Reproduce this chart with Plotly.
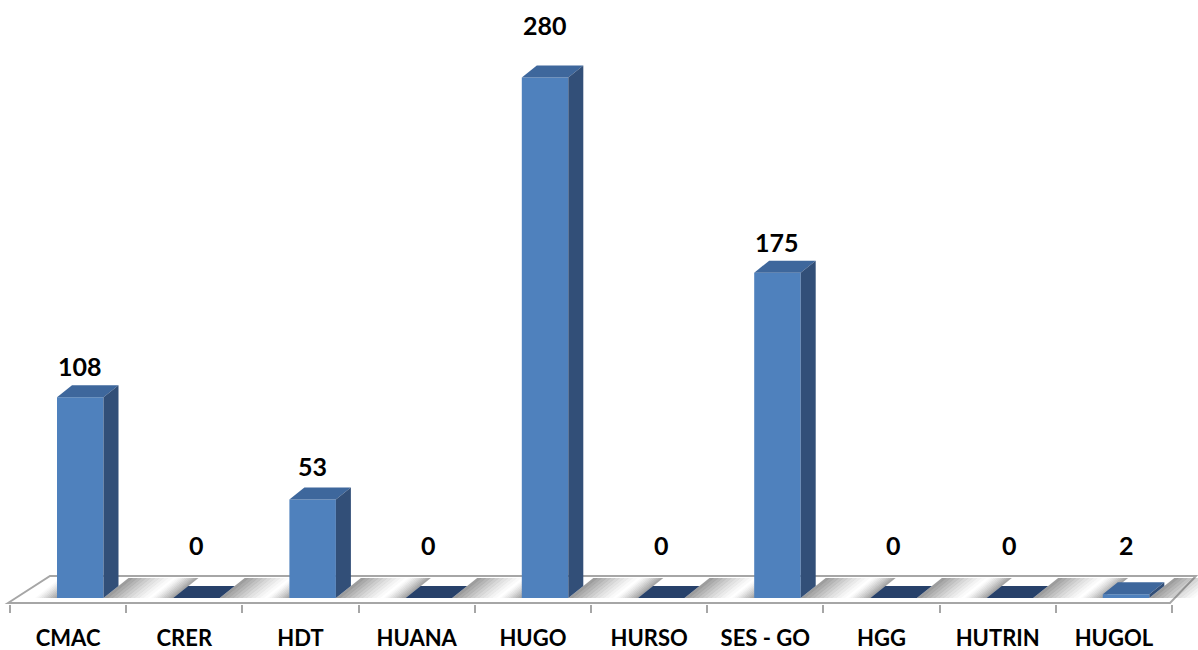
import plotly.graph_objects as go

# ---- data -------------------------------------------------------------
categories = ["CMAC", "CRER", "HDT", "HUANA", "HUGO", "HURSO",
              "SES - GO", "HGG", "HUTRIN", "HUGOL"]
values = [108, 0, 53, 0, 280, 0, 175, 0, 0, 2]

# extra lift (px) of each value label above the back edge of its bar top
label_gap_px = [7, 29, 9, 29, 28, 29, 7, 29, 29, 25]

# ---- geometry (pixels of the 1198x650 page) ---------------------------
W, H = 1198, 650
SLOT_PX = 116.2          # width of one category slot
X0_PX = 10               # left boundary of the first slot
Y0_PX = 598              # pixel row of value 0 (bar front bottom)
PX_PER_UNIT = 1.859      # vertical pixels per unit of value
PLOT_BOTTOM_PX = 604

BAR_LEFT_PX = 47         # bar front-left edge, from slot's left boundary
BAR_W_PX = 46.5
DEPTH_X_PX = 15          # 3-D depth shift of bar tops/sides
DEPTH_Y_PX = 12


def ux(px):
    return (px - X0_PX) / SLOT_PX - 0.5


def uy(py):
    return (Y0_PX - py) / PX_PER_UNIT


bar_offset = BAR_LEFT_PX / SLOT_PX - 0.5
bar_w = BAR_W_PX / SLOT_PX
ddx = DEPTH_X_PX / SLOT_PX
ddy = DEPTH_Y_PX / PX_PER_UNIT

positions = list(range(len(categories)))

FRONT = "#4F81BD"
TOP = "#3E679C"
SIDE = "#324F78"
FLAT = "#27416A"
FLOOR_LINE = "#A6A6A6"

fig = go.Figure()

# ---- floor -------------------------------------------------------------
floor_pts = [(ux(8), uy(603)), (ux(50), uy(576)),
             (ux(1196), uy(576)), (ux(1170), uy(603))]
path = "M " + " L ".join(f"{x},{y}" for x, y in floor_pts) + " Z"
shapes = [dict(type="path", path=path, xref="x", yref="y", layer="below",
               fillcolor="white", line=dict(color=FLOOR_LINE, width=2))]

# soft shadows cast on the floor beside each bar
BAND_FRONT, BAND_BACK = 598, 578
SHEAR = 1.25 * (BAND_FRONT - BAND_BACK)


def band(px_a, px_b, alpha):
    pts = [(ux(px_a), uy(BAND_FRONT)), (ux(px_b), uy(BAND_FRONT)),
           (ux(px_b + SHEAR), uy(BAND_BACK)), (ux(px_a + SHEAR), uy(BAND_BACK))]
    p = "M " + " L ".join(f"{x},{y}" for x, y in pts) + " Z"
    return dict(type="path", path=p, xref="x", yref="y", layer="below",
                fillcolor=f"rgba(105,105,105,{alpha:.3f})", line=dict(width=0))


STEPS = 10
for i in positions:
    left = X0_PX + SLOT_PX * i + BAR_LEFT_PX
    right = left + BAR_W_PX
    # left side: darkens toward the bar
    lw = 22
    for s in range(STEPS):
        a = left - lw + lw * s / STEPS
        b = left - lw + lw * (s + 1) / STEPS
        shapes.append(band(a, b + 0.3, 0.6 * ((s + 1) / STEPS) ** 1.3))
    # right side: fades away from the bar
    rw = 44
    for s in range(STEPS):
        a = right + rw * s / STEPS
        b = right + rw * (s + 1) / STEPS
        shapes.append(band(a, b + 0.3, 0.65 * (1 - s / STEPS) ** 1.3))

# ---- bars: front faces ------------------------------------------------------
fig.add_trace(go.Bar(
    x=positions, y=values, width=bar_w, offset=bar_offset,
    marker=dict(color=FRONT, line=dict(width=0)),
    hoverinfo="x+y", showlegend=False,
))

# ---- bars: top and side faces ---------------------------------------------
for i, v in zip(positions, values):
    x0 = i + bar_offset
    x1 = x0 + bar_w
    top_x = [x0, x1, x1 + ddx, x0 + ddx, x0]
    top_y = [v, v, v + ddy, v + ddy, v]
    fig.add_trace(go.Scatter(
        x=top_x, y=top_y, mode="lines", fill="toself",
        fillcolor=FLAT if v == 0 else TOP, line=dict(width=0),
        hoverinfo="skip", showlegend=False,
    ))
    if v > 0:
        side_x = [x1, x1 + ddx, x1 + ddx, x1, x1]
        side_y = [0, ddy, v + ddy, v, 0]
        fig.add_trace(go.Scatter(
            x=side_x, y=side_y, mode="lines", fill="toself",
            fillcolor=SIDE, line=dict(width=0),
            hoverinfo="skip", showlegend=False,
        ))

# ---- value labels -------------------------------------------------------------
annotations = []
for i, v, gap in zip(positions, values, label_gap_px):
    annotations.append(dict(
        x=i + bar_offset + bar_w / 2, y=v + ddy, xref="x", yref="y",
        text=str(v), showarrow=False, yanchor="bottom", xanchor="center",
        yshift=gap - 5,
        font=dict(family="Lato", size=25, color="black", weight="bold"),
    ))

fig.update_layout(
    width=W, height=H,
    margin=dict(l=0, r=0, t=0, b=H - PLOT_BOTTOM_PX, autoexpand=False),
    paper_bgcolor="white", plot_bgcolor="white",
    shapes=shapes, annotations=annotations,
    showlegend=False,
    xaxis=dict(
        range=[ux(0), ux(W)], automargin=False,
        tickmode="array", tickvals=positions, ticktext=categories,
        ticks="", showgrid=False, zeroline=False, showline=False,
        tickfont=dict(family="Lato", size=22, color="black", weight="bold"),
        ticklabelstandoff=19,
        minor=dict(tickmode="array",
                   tickvals=[p - 0.5 for p in positions] + [positions[-1] + 0.5],
                   ticks="outside", ticklen=8, tickwidth=2,
                   tickcolor=FLOOR_LINE, showgrid=False),
        fixedrange=True,
    ),
    yaxis=dict(
        range=[uy(PLOT_BOTTOM_PX), uy(0)], automargin=False,
        showticklabels=False, ticks="", showgrid=False,
        zeroline=False, showline=False, fixedrange=True,
    ),
)

fig.write_html("out.html")
